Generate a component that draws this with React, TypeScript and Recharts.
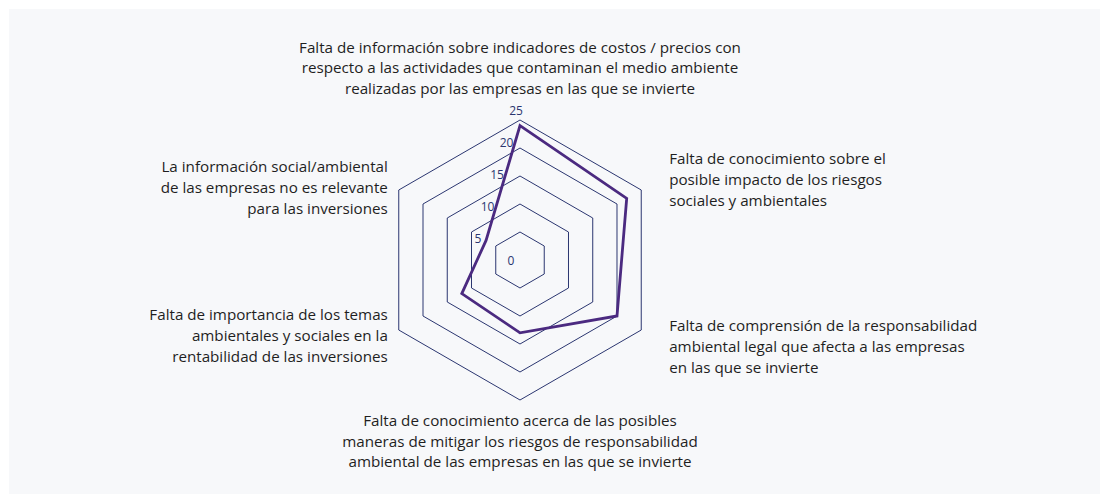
import React from "react";
import { RadarChart, Radar, PolarGrid, PolarAngleAxis, PolarRadiusAxis } from "recharts";

const categories: string[] = [
  "Falta de información sobre indicadores de costos / precios con\nrespecto a las actividades que contaminan el medio ambiente\nrealizadas por las empresas en las que se invierte",
  "Falta de conocimiento sobre el\nposible impacto de los riesgos\nsociales y ambientales",
  "Falta de comprensión de la responsabilidad\nambiental legal que afecta a las empresas\nen las que se invierte",
  "Falta de conocimiento acerca de las posibles\nmaneras de mitigar los riesgos de responsabilidad\nambiental de las empresas en las que se invierte",
  "Falta de importancia de los temas\nambientales y sociales en la\nrentabilidad de las inversiones",
  "La información social/ambiental\nde las empresas no es relevante\npara las inversiones",
];

const values: number[] = [24, 22, 20, 13, 12, 7];

const radiusTicks: number[] = [0, 5, 10, 15, 20, 25];

const data = categories.map((c, i) => ({ category: c, value: values[i] }));

const FONT = "'Open Sans', 'Noto Sans', sans-serif";
const LINE_H = 20.7;

const AngleTick = (props: any) => {
  const { x, y, payload, index } = props;
  const lines: string[] = String(payload.value).split("\n");
  let anchor: "start" | "middle" | "end" = "middle";
  let tx = x;
  let firstY = y;
  const n = lines.length;
  switch (index) {
    case 0:
      anchor = "middle";
      firstY = y - 24 - (n - 1) * LINE_H;
      break;
    case 1:
      anchor = "start";
      tx = x + 21;
      firstY = y - 7 - ((n - 1) * LINE_H) / 2;
      break;
    case 2:
      anchor = "start";
      tx = x + 21;
      firstY = y + 12 - ((n - 1) * LINE_H) / 2;
      break;
    case 3:
      anchor = "middle";
      firstY = y + 12;
      break;
    case 4:
      anchor = "end";
      tx = x - 4;
      firstY = y + 1 - ((n - 1) * LINE_H) / 2;
      break;
    default:
      anchor = "end";
      tx = x - 4;
      firstY = y + 1 - ((n - 1) * LINE_H) / 2;
  }
  return (
    <text
      x={tx}
      y={firstY}
      textAnchor={anchor}
      fontFamily={FONT}
      fontSize={15.2}
      fill="#1f1f1f"
      dominantBaseline="central"
    >
      {lines.map((l, i) => (
        <tspan key={i} x={tx} y={firstY + i * LINE_H} dominantBaseline="central">
          {l}
        </tspan>
      ))}
    </text>
  );
};

const RadiusTick = (props: any) => {
  const { x, y, payload } = props;
  const v = Number(payload.value);
  let tx = x;
  let ty = y;
  if (v === 0) {
    tx = x - 9;
  } else {
    tx = x - 4 - (25 - v) * 1.9;
    ty = y - 10 + (25 - v) * 0.8;
  }
  return (
    <text
      x={tx}
      y={ty}
      textAnchor="middle"
      dominantBaseline="central"
      fontFamily={FONT}
      fontSize={12}
      fill="#2b3670"
    >
      {payload.value}
    </text>
  );
};

export default function App() {
  return (
    <div
      style={{
        position: "fixed",
        left: 9,
        top: 9,
        right: 0,
        bottom: 0,
        background: "#f7f8fa",
        overflow: "hidden",
      }}
    >
      <RadarChart
        width={1091}
        height={485}
        data={data}
        cx={511}
        cy={251}
        outerRadius={140}
        startAngle={90}
        endAngle={-270}
      >
        <PolarGrid gridType="polygon" radialLines={false} stroke="#2b3670" strokeWidth={1} strokeOpacity={1} />
        <PolarAngleAxis dataKey="category" tick={<AngleTick />} axisLine={false} tickLine={false} />
        <PolarRadiusAxis
          angle={90}
          domain={[0, 25]}
          ticks={radiusTicks as any}
          tickCount={6}
          axisLine={false}
          tick={<RadiusTick />}
        />
        <Radar
          dataKey="value"
          stroke="#4b2a80"
          strokeWidth={2.8}
          fill="none"
          fillOpacity={0}
          isAnimationActive={false}
          dot={false}
        />
      </RadarChart>
    </div>
  );
}
